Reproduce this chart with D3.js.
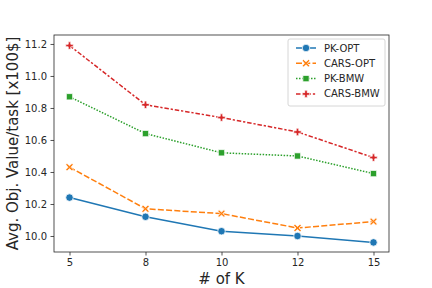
<!DOCTYPE html>
<html><head><meta charset="utf-8">
<script src="https://d3js.org/d3.v7.min.js"></script>
<style>body{margin:0;background:#fff}svg{display:block;font-family:"DejaVu Sans",sans-serif}</style>
</head><body><svg id="c" width="432" height="288"></svg>
<script>
const categories = ["5","8","10","12","15"];
const seriesNames = ["PK-OPT","CARS-OPT","PK-BMW","CARS-BMW"];
const pkOpt   = [10.24, 10.12, 10.03, 10.00, 9.96];
const carsOpt = [10.43, 10.17, 10.14, 10.05, 10.09];
const pkBmw   = [10.87, 10.64, 10.52, 10.50, 10.39];
const carsBmw = [11.19, 10.82, 10.74, 10.65, 10.49];
const yTicks = [10.0, 10.2, 10.4, 10.6, 10.8, 11.0, 11.2];

const series = [
  {name: seriesNames[0], values: pkOpt,   color: "#1f77b4", dash: null,              marker: "o"},
  {name: seriesNames[1], values: carsOpt, color: "#ff7f0e", dash: "6,2.25",           marker: "X"},
  {name: seriesNames[2], values: pkBmw,   color: "#2ca02c", dash: "1.5,1.5",          marker: "s"},
  {name: seriesNames[3], values: carsBmw, color: "#d62728", dash: "4.5,1.875,2.25,1.875", marker: "P"}
];

const L = 54, R = 389, T = 35, B = 252;
const svg = d3.select("#c");
const x = d3.scalePoint().domain(categories).range([L, R]).padding(0.204);
const y = d3.scaleLinear().domain([9.9, 11.256]).range([B, T]);

const xa = svg.append("g").attr("transform", `translate(0,${B})`)
  .call(d3.axisBottom(x).tickSize(3.5).tickPadding(3.5));
const ya = svg.append("g").attr("transform", `translate(${L},0)`)
  .call(d3.axisLeft(y).tickValues(yTicks).tickFormat(d3.format(".1f")).tickSize(3.5).tickPadding(3.5));
[xa, ya].forEach(a => {
  a.select(".domain").remove();
  a.selectAll("text").attr("font-size", 10).attr("fill", "#262626").attr("font-family", "DejaVu Sans");
  a.selectAll("line").attr("stroke", "#262626").attr("stroke-width", 0.8);
});
svg.append("rect").attr("x", L).attr("y", T).attr("width", R - L).attr("height", B - T)
  .attr("fill", "none").attr("stroke", "#262626").attr("stroke-width", 0.8);

function markerPath(type, s) {
  if (type === "o") return d3.symbol(d3.symbolCircle, Math.PI * s * s / 4)();
  if (type === "s") { const h = s * 0.42; return `M${-h},${-h}H${h}V${h}H${-h}Z`; }
  if (type === "X") { const a = s * 0.5, w = s * 0.17;
    return `M${-a+w},${-a}L0,${-w*1.2}L${a-w},${-a}L${a},${-a+w}L${w*1.2},0L${a},${a-w}L${a-w},${a}L0,${w*1.2}L${-a+w},${a}L${-a},${a-w}L${-w*1.2},0L${-a},${-a+w}Z`; }
  if (type === "P") { const a = s * 0.5, w = s * 0.17;
    return `M${-w},${-a}H${w}V${-w}H${a}V${w}H${w}V${a}H${-w}V${w}H${-a}V${-w}H${-w}Z`; }
}

const line = d3.line().x((d, i) => x(categories[i])).y(d => y(d));
series.forEach(s => {
  const g = svg.append("g");
  g.append("path").attr("d", line(s.values)).attr("fill", "none")
    .attr("stroke", s.color).attr("stroke-width", 1.5)
    .attr("stroke-dasharray", s.dash);
  g.selectAll("path.m").data(s.values).enter().append("path").attr("class", "m")
    .attr("d", markerPath(s.marker, 7.5))
    .attr("transform", (d, i) => `translate(${x(categories[i])},${y(d)})`)
    .attr("fill", s.color).attr("stroke", "#fff").attr("stroke-width", 0.75);
});

const lg = svg.append("g");
lg.append("rect").attr("x", 288).attr("y", 39).attr("width", 97).attr("height", 67)
  .attr("rx", 2).attr("fill", "#fff").attr("fill-opacity", 0.8)
  .attr("stroke", "#cccccc").attr("stroke-width", 0.8);
series.forEach((s, i) => {
  const yy = 48 + i * 15.3;
  lg.append("line").attr("x1", 296).attr("x2", 316).attr("y1", yy).attr("y2", yy)
    .attr("stroke", s.color).attr("stroke-width", 1.5).attr("stroke-dasharray", s.dash);
  lg.append("path").attr("d", markerPath(s.marker, 7.5)).attr("transform", `translate(306,${yy})`)
    .attr("fill", s.color).attr("stroke", "#fff").attr("stroke-width", 0.75);
  lg.append("text").attr("x", 324).attr("y", yy).attr("dy", "0.35em")
    .attr("font-size", 10).attr("fill", "#262626").text(s.name);
});

svg.append("text").attr("x", (L + R) / 2).attr("y", 284).attr("text-anchor", "middle")
  .attr("font-size", 15).attr("fill", "#262626").text("# of K");
svg.append("text").attr("transform", `translate(18,${(T + B) / 2}) rotate(-90)`)
  .attr("text-anchor", "middle").attr("font-size", 15).attr("fill", "#262626")
  .text("Avg. Obj. Value/task [x100$]");
</script></body></html>
